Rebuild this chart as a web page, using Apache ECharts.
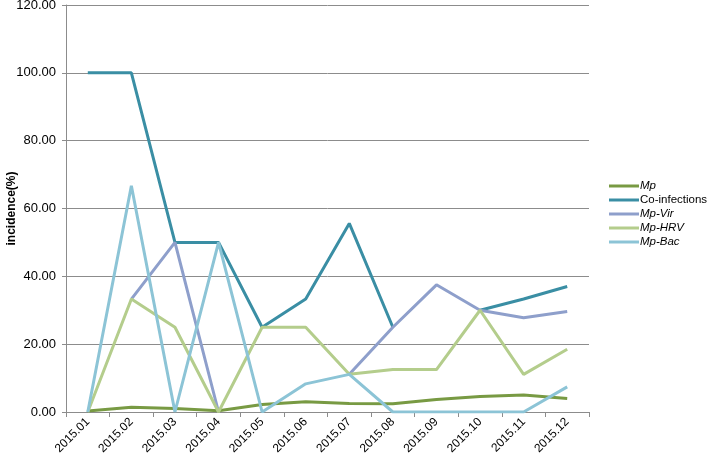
<!DOCTYPE html>
<html>
<head>
<meta charset="utf-8">
<script src="https://cdn.jsdelivr.net/npm/echarts@6/dist/echarts.min.js"></script>
<style>
  html, body { margin: 0; padding: 0; background: #fff; }
  #chart { width: 709px; height: 460px; }
</style>
</head>
<body>
<div id="chart"></div>
<script>
const months = ['2015.01', '2015.02', '2015.03', '2015.04', '2015.05', '2015.06',
  '2015.07', '2015.08', '2015.09', '2015.10', '2015.11', '2015.12'];

const mp = [0.3, 1.4, 1.0, 0.4, 2.2, 3.0, 2.5, 2.4, 3.7, 4.6, 5.0, 4.0];
const coInfections = [100, 100, 50, 50, 25, 33.3, 55.6, 25, null, 30, 33.3, 37.0];
const mpVir = [null, 33.3, 50, 0, null, null, 11.1, 25, 37.5, 30, 27.8, 29.6];
const mpHrv = [0, 33.3, 25, 0, 25, 25, 11.1, 12.5, 12.5, 30, 11.1, 18.5];
const mpBac = [0, 66.7, 0, 50, 0, 8.3, 11.1, 0, 0, 0, 0, 7.4];

const yTicks = { min: 0, max: 120, interval: 20 };

const colors = {
  'Mp': '#789a43',
  'Co-infections': '#3a8ea4',
  'Mp-Vir': '#8e9fcb',
  'Mp-HRV': '#b4cd8c',
  'Mp-Bac': '#8cc4d6'
};

const makeLine = (name, data) => ({
  name: name,
  type: 'line',
  data: data,
  symbol: 'none',
  connectNulls: false,
  lineStyle: { width: 3, color: colors[name] },
  itemStyle: { color: colors[name] }
});

const chart = echarts.init(document.getElementById('chart'));
chart.setOption({
  animation: false,
  grid: { left: 66, right: 120, top: 5, bottom: 48, containLabel: false, outerBoundsMode: 'none' },
  legend: {
    orient: 'vertical',
    left: 604,
    top: 175,
    itemWidth: 30,
    itemHeight: 3,
    itemGap: 2,
    icon: 'rect',
    data: ['Mp', 'Co-infections', 'Mp-Vir', 'Mp-HRV', 'Mp-Bac'],
    formatter: function (name) {
      return name === 'Co-infections' ? name : '{i|' + name + '}';
    },
    textStyle: {
      fontFamily: 'Liberation Sans',
      fontSize: 11.5,
      color: '#000',
      padding: [0, 0, 0, -4],
      rich: {
        i: { fontStyle: 'italic', fontSize: 11.5, fontFamily: 'Liberation Sans', color: '#000' }
      }
    }
  },
  xAxis: {
    type: 'category',
    data: months,
    boundaryGap: true,
    axisLine: { lineStyle: { color: '#8c8c8c', width: 1 } },
    axisTick: { show: true, length: 5, lineStyle: { color: '#8c8c8c' } },
    axisLabel: {
      rotate: 45,
      color: '#000',
      fontSize: 12,
      fontFamily: 'Liberation Sans',
      margin: 8,
      interval: 0
    },
    splitLine: { show: false }
  },
  yAxis: {
    type: 'value',
    min: yTicks.min,
    max: yTicks.max,
    interval: yTicks.interval,
    name: 'incidence(%)',
    nameLocation: 'middle',
    nameGap: 48,
    nameMoveOverlap: false,
    nameRotate: 90,
    nameTextStyle: { fontWeight: 'bold', fontSize: 12, color: '#000', fontFamily: 'Liberation Sans' },
    axisLine: { show: true, lineStyle: { color: '#8c8c8c', width: 1 } },
    axisTick: { show: true, length: 4, lineStyle: { color: '#8c8c8c' } },
    axisLabel: {
      color: '#000',
      fontSize: 13,
      fontFamily: 'Liberation Sans',
      margin: 10,
      formatter: function (v) { return v.toFixed(2); }
    },
    splitLine: { show: true, lineStyle: { color: '#8c8c8c', width: 1 } }
  },
  series: [
    makeLine('Mp', mp),
    makeLine('Co-infections', coInfections),
    makeLine('Mp-Vir', mpVir),
    makeLine('Mp-HRV', mpHrv),
    makeLine('Mp-Bac', mpBac)
  ]
});
</script>
</body>
</html>
